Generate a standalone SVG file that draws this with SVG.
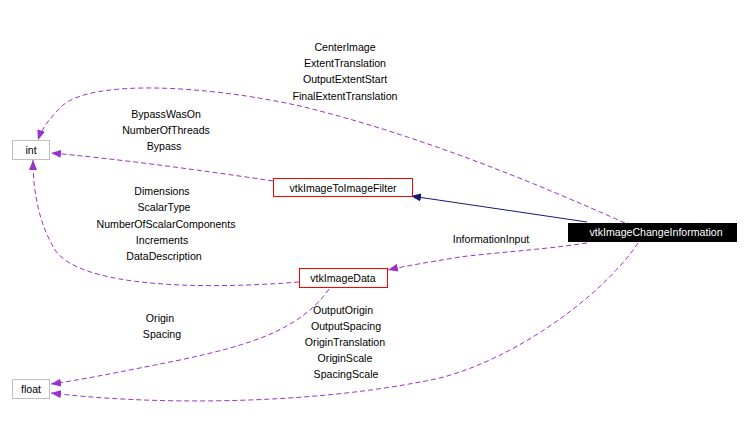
<svg xmlns="http://www.w3.org/2000/svg" width="749" height="445" viewBox="0 0 749 445">
<defs>
<style>
text{font-family:"Liberation Sans",Arial,sans-serif;font-size:10.6px;fill:#000}
.lbl{text-anchor:middle}
.box{fill:#fff;stroke:#bfbfbf;stroke-width:1}
.red{fill:#fff;stroke:#ff0000;stroke-width:1}
.dash{fill:none;stroke:#9a32cd;stroke-width:1;stroke-dasharray:5,3}
.solid{fill:none;stroke:#191970;stroke-width:1}
</style>
<marker id="ap" viewBox="0 0 10 8" refX="10" refY="4" markerWidth="10" markerHeight="8" markerUnits="userSpaceOnUse" orient="auto"><path d="M0,0 L10,4 L0,8 Z" fill="#9a32cd"/></marker>
<marker id="an" viewBox="0 0 10 8" refX="10" refY="4" markerWidth="10" markerHeight="8" markerUnits="userSpaceOnUse" orient="auto"><path d="M0,0 L10,4 L0,8 Z" fill="#191970"/></marker>
</defs>
<rect width="749" height="445" fill="#fff"/>
<g id="edges">
<path class="dash" marker-end="url(#ap)" d="M625,223 C540,185 420,135 300,106 C200,84 90,80 62,106 C50,118 42,128 38,140"/>
<path class="solid" marker-end="url(#an)" d="M587,222 L411,196"/>
<path class="dash" marker-end="url(#ap)" d="M273,181 C200,170 110,158 51,153"/>
<path class="dash" marker-end="url(#ap)" d="M587,243 C540,250 490,253 460,257 C430,262 405,266 388,270"/>
<path class="dash" marker-end="url(#ap)" d="M299,282 C200,290 80,287 55,250 C40,225 33,195 33,160"/>
<path class="dash" marker-end="url(#ap)" d="M329,289 C300,330 250,345 180,360 C120,372 80,380 51,384"/>
<path class="dash" marker-end="url(#ap)" d="M638,243 C600,300 500,370 420,382 C300,405 150,405 51,393"/>
</g>
<g id="edge-labels">
<text class="lbl" x="345" y="51">CenterImage</text>
<text class="lbl" x="345" y="67">ExtentTranslation</text>
<text class="lbl" x="345" y="83">OutputExtentStart</text>
<text class="lbl" x="345" y="100">FinalExtentTranslation</text>
<text class="lbl" x="166" y="118">BypassWasOn</text>
<text class="lbl" x="166" y="134">NumberOfThreads</text>
<text class="lbl" x="164" y="150">Bypass</text>
<text class="lbl" x="162" y="195">Dimensions</text>
<text class="lbl" x="164" y="211">ScalarType</text>
<text class="lbl" x="166" y="228">NumberOfScalarComponents</text>
<text class="lbl" x="162" y="244">Increments</text>
<text class="lbl" x="164" y="260">DataDescription</text>
<text class="lbl" x="491" y="243">InformationInput</text>
<text class="lbl" x="160" y="322">Origin</text>
<text class="lbl" x="162" y="338">Spacing</text>
<text class="lbl" x="343" y="314">OutputOrigin</text>
<text class="lbl" x="346" y="330">OutputSpacing</text>
<text class="lbl" x="345" y="346">OriginTranslation</text>
<text class="lbl" x="345" y="362">OriginScale</text>
<text class="lbl" x="346" y="378">SpacingScale</text>
</g>
<g id="node-int"><rect class="box" x="12.5" y="140.5" width="37" height="19"/><text class="lbl" x="31" y="154">int</text></g>
<g id="node-float"><rect class="box" x="12.5" y="379.5" width="37" height="19"/><text class="lbl" x="31" y="393">float</text></g>
<g id="node-vtkImageToImageFilter"><rect class="red" x="273.5" y="178.5" width="139" height="18"/><text class="lbl" x="343" y="192">vtkImageToImageFilter</text></g>
<g id="node-vtkImageData"><rect class="red" x="299.5" y="268.5" width="88" height="19"/><text class="lbl" x="343" y="282">vtkImageData</text></g>
<g id="node-vtkImageChangeInformation"><rect x="568" y="223" width="169" height="19" fill="#000"/><text class="lbl" x="656" y="236" style="fill:#fff">vtkImageChangeInformation</text></g>
</svg>
